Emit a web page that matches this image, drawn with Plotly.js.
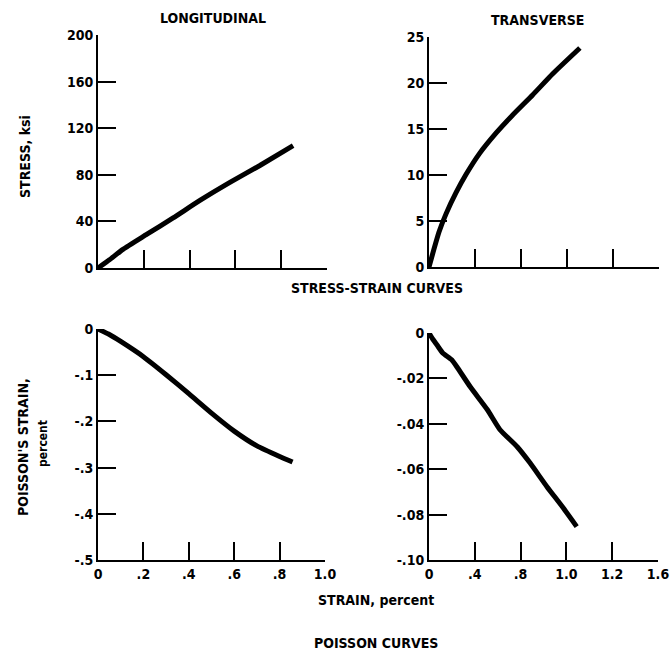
<!DOCTYPE html>
<html>
<head>
<meta charset="utf-8">
<script src="https://cdn.plot.ly/plotly-3.0.1.min.js"></script>
<style>html,body{margin:0;padding:0;background:#fff}#chart{width:671px;height:652px}</style>
</head>
<body>
<div id="chart"></div>
<script>
// Longitudinal stress-strain
const longStrain = [0, 0.05, 0.109, 0.214, 0.328, 0.445, 0.576, 0.707, 0.852];
const longStress = [0, 7, 16, 29, 43, 58, 73.5, 88, 105];
// Transverse stress-strain
const transStrain = [0, 0.04, 0.087, 0.149, 0.236, 0.324, 0.437, 0.586, 0.726, 0.901, 1.076, 1.312];
const transStress = [0, 1.8, 3.8, 5.8, 8.1, 10.1, 12.3, 14.6, 16.5, 18.7, 21.0, 23.8];
// Longitudinal Poisson
const longPStrain = [0, 0.05, 0.1, 0.2, 0.3, 0.4, 0.5, 0.6, 0.7, 0.8, 0.857];
const longPoisson = [0, -0.012, -0.027, -0.06, -0.099, -0.14, -0.182, -0.221, -0.253, -0.276, -0.288];
// Transverse Poisson
const transPStrain = [0, 0.03, 0.07, 0.12, 0.20, 0.25, 0.36, 0.51, 0.62, 0.77, 0.88, 1.03, 1.17, 1.29];
const transPoisson = [0, -0.0025, -0.0053, -0.0088, -0.0119, -0.0154, -0.0237, -0.0338, -0.0426, -0.0501, -0.0571, -0.0677, -0.0769, -0.0853];

// Tick labels
const longXTicks = [0, 0.2, 0.4, 0.6, 0.8, 1.0];
const longXText = ["0", ".2", ".4", ".6", ".8", "1.0"];
const transXTicks = [0, 0.4, 0.8, 1.2, 1.6, 2.0];
const transXText = ["0", ".4", ".8", "1.0", "1.2", "1.6"];
const longYTicks = [0, 40, 80, 120, 160, 200];
const longYText = ["0", "40", "80", "120", "160", "200"];
const transYTicks = [0, 5, 10, 15, 20, 25];
const transYText = ["0", "5", "10", "15", "20", "25"];
const lpYTicks = [0, -0.1, -0.2, -0.3, -0.4, -0.5];
const lpYText = ["0", "-.1", "-.2", "-.3", "-.4", "-.5"];
const tpYTicks = [0, -0.02, -0.04, -0.06, -0.08, -0.10];
const tpYText = ["0", "-.02", "-.04", "-.06", "-.08", "-.10"];

const FONT = "DejaVu Sans Condensed, Liberation Sans Narrow, sans-serif";
const tickFont = {family: FONT, size: 14, color: "#000", weight: "bold"};
const line = {color: "#000", width: 5, shape: "spline", smoothing: 0.5};

const traces = [
  {x: longStrain, y: longStress, xaxis: "x", yaxis: "y", mode: "lines", line: line},
  {x: transStrain, y: transStress, xaxis: "x2", yaxis: "y2", mode: "lines", line: line},
  {x: longPStrain, y: longPoisson, xaxis: "x3", yaxis: "y3", mode: "lines", line: line},
  {x: transPStrain, y: transPoisson, xaxis: "x4", yaxis: "y4", mode: "lines", line: line}
];

function ax(domain, range, tv, tt, show, anchor) {
  return {
    domain: domain, range: range, anchor: anchor,
    tickmode: "array", tickvals: tv, ticktext: tt,
    showticklabels: show, ticks: "inside", ticklen: 18, tickwidth: 2, tickcolor: "#000",
    showline: true, linecolor: "#000", linewidth: 2,
    showgrid: false, zeroline: false, tickfont: tickFont, fixedrange: true
  };
}

const layout = {
  width: 671, height: 652,
  margin: {l: 0, r: 0, t: 0, b: 0},
  paper_bgcolor: "#fff", plot_bgcolor: "#fff",
  showlegend: false,
  xaxis: ax([98/671, 327/671], [0, 1.0], longXTicks, longXText, false, "y"),
  yaxis: ax([1 - 268/652, 1 - 35/652], [0, 200], longYTicks, longYText, true, "x"),
  xaxis2: ax([429/671, 659/671], [0, 2.0], transXTicks, transXText, false, "y2"),
  yaxis2: ax([1 - 267/652, 1 - 37/652], [0, 25], transYTicks, transYText, true, "x2"),
  xaxis3: ax([98/671, 325/671], [0, 1.0], longXTicks, longXText, true, "y3"),
  yaxis3: ax([1 - 560/652, 1 - 329/652], [-0.5, 0], lpYTicks, lpYText, true, "x3"),
  xaxis4: ax([429/671, 658/671], [0, 2.0], transXTicks, transXText, true, "y4"),
  yaxis4: ax([1 - 560/652, 1 - 333/652], [-0.10, 0], tpYTicks, tpYText, true, "x4"),
  annotations: [
    {text: "LONGITUDINAL", x: 213/671, y: 1 - 18/652},
    {text: "TRANSVERSE", x: 537/671, y: 1 - 20/652},
    {text: "STRESS-STRAIN CURVES", x: 377/671, y: 1 - 288/652},
    {text: "STRAIN, percent", x: 376/671, y: 1 - 600/652},
    {text: "POISSON CURVES", x: 376/671, y: 1 - 643/652},
    {text: "STRESS, ksi", x: 25/671, y: 1 - 157/652, textangle: -90},
    {text: "POISSON'S STRAIN,", x: 23/671, y: 1 - 447/652, textangle: -90},
    {text: "percent", x: 43/671, y: 1 - 444/652, textangle: -90, size: 12}
  ].map(a => ({
    text: a.text, x: a.x, y: a.y, xref: "paper", yref: "paper",
    xanchor: "center", yanchor: "middle", showarrow: false,
    textangle: a.textangle || 0,
    font: {family: FONT, size: a.size || 14, color: "#000", weight: "bold"}
  }))
};

Plotly.newPlot("chart", traces, layout, {displayModeBar: false, staticPlot: true});
</script>
</body>
</html>
